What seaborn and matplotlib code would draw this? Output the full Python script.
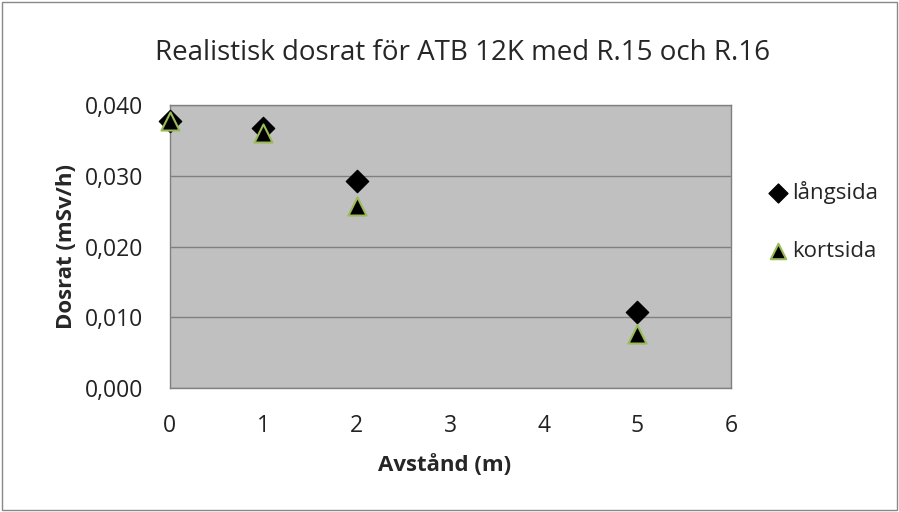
import pandas as pd
import numpy as np
import seaborn as sns
import matplotlib.pyplot as plt
from matplotlib.patches import Rectangle

avstand = [0, 1, 2, 5]
langsida = [0.0378, 0.0368, 0.0293, 0.0107]
kortsida = [0.0377, 0.0360, 0.0257, 0.0076]

df = pd.DataFrame({
    "Avstånd (m)": avstand * 2,
    "Dosrat": langsida + kortsida,
    "serie": ["långsida"] * 4 + ["kortsida"] * 4,
})

sns.set_theme(style="white")
plt.rcParams["font.family"] = ["Open Sans", "DejaVu Sans"]

fig = plt.figure(figsize=(8.99, 5.12), dpi=100)
ax = fig.add_axes([0.189, 0.242, 0.624, 0.553])
ax.set_facecolor("#c0c0c0")

sns.scatterplot(data=df[df.serie == "långsida"], x="Avstånd (m)", y="Dosrat",
                marker="D", color="black", s=130, edgecolor="black",
                label="långsida", ax=ax, zorder=3, clip_on=False)
sns.scatterplot(data=df[df.serie == "kortsida"], x="Avstånd (m)", y="Dosrat",
                marker="^", color="black", s=170, edgecolor="#9bbb59",
                linewidth=1.5, label="kortsida", ax=ax, zorder=4, clip_on=False)

ax.set_xlim(0, 6)
ax.set_ylim(0, 0.040)
ax.set_xticks(range(0, 7))
ax.set_yticks([0, 0.01, 0.02, 0.03, 0.04])
ax.set_yticklabels(["0,000", "0,010", "0,020", "0,030", "0,040"])
ax.tick_params(axis="both", labelsize=16.5, colors="#222222", length=0)
ax.tick_params(axis="x", pad=19)
ax.tick_params(axis="y", pad=19)
ax.yaxis.grid(True, color="#808080", linewidth=1)
ax.set_axisbelow(True)
for side in ["top", "right", "bottom", "left"]:
    ax.spines[side].set_color("#808080")
    ax.spines[side].set_linewidth(1)

ax.set_xlabel("Avstånd (m)", fontsize=16, fontweight="bold")
ax.set_ylabel("Dosrat (mSv/h)", fontsize=16, fontweight="bold")
ax.xaxis.label.set_va("center")
ax.yaxis.label.set_va("center")
ax.xaxis.set_label_coords(0.49, -0.272)
ax.yaxis.set_label_coords(-0.185, 0.5)
fig.text(0.514, 0.897, "Realistisk dosrat för ATB 12K med R.15 och R.16",
         ha="center", va="center", fontsize=20)

leg = ax.legend(loc="center left", bbox_to_anchor=(0.853, 0.568),
                bbox_transform=fig.transFigure, frameon=False, fontsize=16,
                labelspacing=1.65, handlelength=1.0, handletextpad=0.15,
                borderpad=0, borderaxespad=0, markerscale=0.85)

fig.patches.append(Rectangle((0.002, 0.003), 0.996, 0.994, transform=fig.transFigure,
                             fill=False, edgecolor="#888888", linewidth=1))

fig.savefig("out.png", dpi=100)
